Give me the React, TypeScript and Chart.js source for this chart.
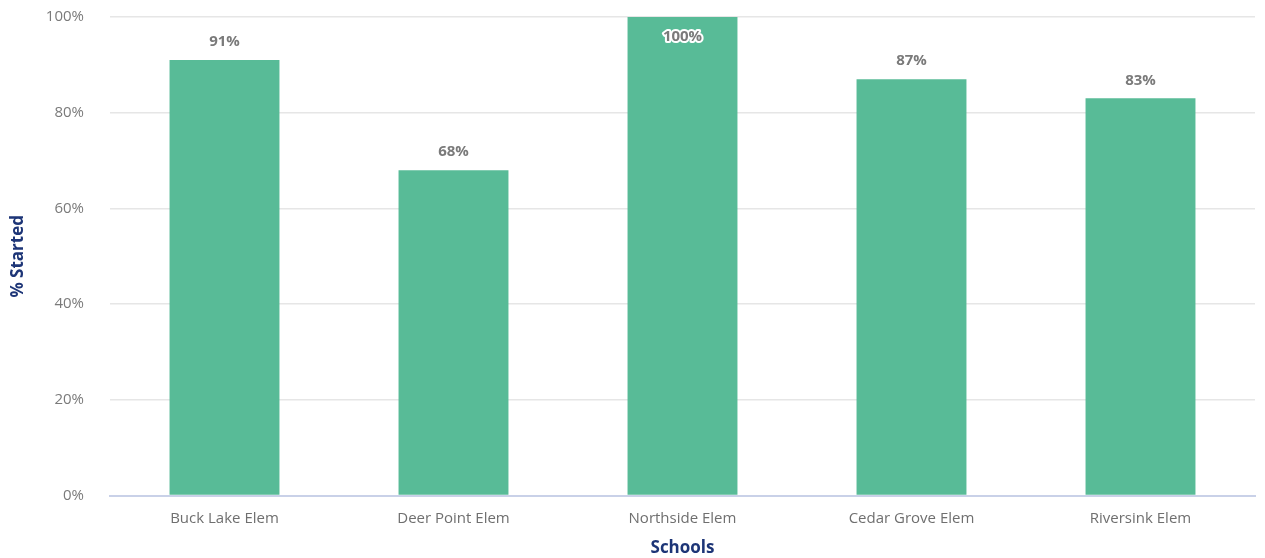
import React, { useEffect, useRef } from "react";
import { Chart, registerables } from "chart.js";

Chart.register(...registerables);

const categories = ["Buck Lake Elem", "Deer Point Elem", "Northside Elem", "Cedar Grove Elem", "Riversink Elem"];
const percentStarted = [91, 68, 100, 87, 83];
const yTicks = [0, 20, 40, 60, 80, 100];

const FONT = "'Open Sans', 'Noto Sans', sans-serif";

const labelPlugin = {
  id: "barLabels",
  afterDatasetsDraw(chart: any) {
    const ctx = chart.ctx;
    const meta = chart.getDatasetMeta(0);
    const area = chart.chartArea;
    ctx.save();
    ctx.font = `bold 15px ${FONT}`;
    ctx.textAlign = "center";
    ctx.textBaseline = "middle";
    meta.data.forEach((bar: any, i: number) => {
      const v = percentStarted[i];
      let y = bar.y - 18;
      const text = v + "%";
      if (y < area.top + 8) {
        y = bar.y + 20;
        ctx.lineWidth = 4;
        ctx.strokeStyle = "#ffffff";
        ctx.lineJoin = "round";
        ctx.strokeText(text, bar.x, y);
      }
      ctx.fillStyle = "#7a7a7a";
      ctx.fillText(text, bar.x, y);
    });
    ctx.restore();
  },
};

export default function App() {
  const ref = useRef<HTMLCanvasElement>(null);
  useEffect(() => {
    document.body.style.margin = "0";
    const chart = new Chart(ref.current!, {
      type: "bar",
      data: {
        labels: categories,
        datasets: [
          {
            data: percentStarted,
            backgroundColor: "#58bb97",
            categoryPercentage: 0.8,
            barPercentage: 0.6,
          },
        ],
      },
      options: {
        animation: false,
        responsive: false,
        layout: { padding: { top: 0, right: 10, left: 0, bottom: 0 } },
        plugins: { legend: { display: false }, tooltip: { enabled: false } },
        scales: {
          x: {
            grid: { display: false },
            border: { color: "#c9d1e8", width: 2 },
            ticks: { color: "#6f6f6f", font: { family: FONT, size: 15 }, padding: 6 },
            title: {
              display: true,
              text: "Schools",
              color: "#1d3577",
              font: { family: FONT, size: 17, weight: "bold" },
              padding: { top: 4, bottom: 0 },
            },
          },
          y: {
            min: 0,
            max: 100,
            afterBuildTicks: (axis: any) => {
              axis.ticks = yTicks.map((v) => ({ value: v }));
            },
            afterFit: (axis: any) => {
              axis.width = 110;
            },
            grid: { color: "#e6e6e6", drawTicks: true, tickLength: 18, tickColor: "rgba(0,0,0,0)", lineWidth: 1.5 },
            border: { display: false },
            ticks: {
              color: "#7a7a7a",
              font: { family: FONT, size: 15 },
              padding: 8,
              callback: (v: any) => v + "%",
            },
            title: {
              display: true,
              text: "% Started",
              color: "#1d3577",
              font: { family: FONT, size: 17, weight: "bold" },
              padding: { top: 8, bottom: 0 },
            },
          },
        },
      },
      plugins: [labelPlugin],
    });
    return () => chart.destroy();
  }, []);
  return (
    <div style={{ width: 1265, height: 558 }}>
      <canvas ref={ref} width={1265} height={558} style={{ display: "block" }} />
    </div>
  );
}
